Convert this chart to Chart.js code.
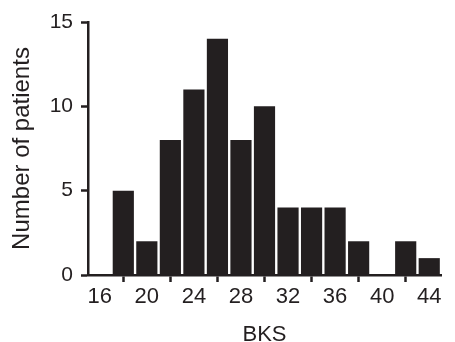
<!DOCTYPE html>
<html>
<head>
<meta charset="utf-8">
<script src="https://cdn.jsdelivr.net/npm/chart.js@4/dist/chart.umd.min.js"></script>
<style>
  html, body { margin: 0; padding: 0; background: #ffffff; }
  #c { display: block; }
</style>
</head>
<body>
<canvas id="c" width="455" height="342"></canvas>
<script>
// Histogram data (bin centres on BKS axis, number of patients)
const binCenters = [18, 20, 22, 24, 26, 28, 30, 32, 34, 36, 38, 40, 42, 44];
const patientCounts = [5, 2, 8, 11, 14, 8, 10, 4, 4, 4, 2, 0, 2, 1];
const xTickValues = [16, 20, 24, 28, 32, 36, 40, 44];
const yTickValues = [0, 5, 10, 15];
const xAxisTitle = 'BKS';
const yAxisTitle = 'Number of patients';

const ink = '#231f20';
const fontFamily = '"Liberation Sans", Arial, Helvetica, sans-serif';

new Chart(document.getElementById('c'), {
  type: 'bar',
  data: {
    datasets: [{
      data: binCenters.map((x, i) => ({ x: x, y: patientCounts[i] })),
      backgroundColor: ink,
      borderWidth: 0,
      barPercentage: 0.9,
      categoryPercentage: 1.0
    }]
  },
  options: {
    responsive: false,
    animation: false,
    layout: { padding: { top: 22, right: 14, left: 0, bottom: 0 } },
    plugins: { legend: { display: false }, tooltip: { enabled: false } },
    scales: {
      x: {
        type: 'linear',
        offset: false,
        min: 15,
        max: 45,
        afterBuildTicks: (scale) => { scale.ticks = xTickValues.map(v => ({ value: v })); },
        afterFit: (scale) => { scale.height = 67; },
        grid: { display: true, drawOnChartArea: false, drawTicks: true, tickLength: 7, tickWidth: 2.5, tickColor: ink },
        border: { display: true, color: ink, width: 2.5 },
        ticks: { color: ink, font: { family: fontFamily, size: 22 }, padding: 2, maxRotation: 0, autoSkip: false },
        title: { display: true, text: xAxisTitle, color: ink, font: { family: fontFamily, size: 22, lineHeight: 1 }, padding: { top: -4, bottom: -4 } }
      },
      y: {
        min: 0,
        max: 15,
        afterBuildTicks: (scale) => { scale.ticks = yTickValues.map(v => ({ value: v })); },
        afterFit: (scale) => { scale.width = 88; },
        grid: { display: true, drawOnChartArea: false, drawTicks: true, tickLength: 7, tickWidth: 2.5, tickColor: ink },
        border: { display: true, color: ink, width: 2.5 },
        ticks: { color: ink, font: { family: fontFamily, size: 21 }, padding: 8 },
        title: { display: true, text: yAxisTitle, color: ink, font: { family: fontFamily, size: 24, lineHeight: 1 }, padding: { top: 10, bottom: 0 } }
      }
    }
  }
});
</script>
</body>
</html>
